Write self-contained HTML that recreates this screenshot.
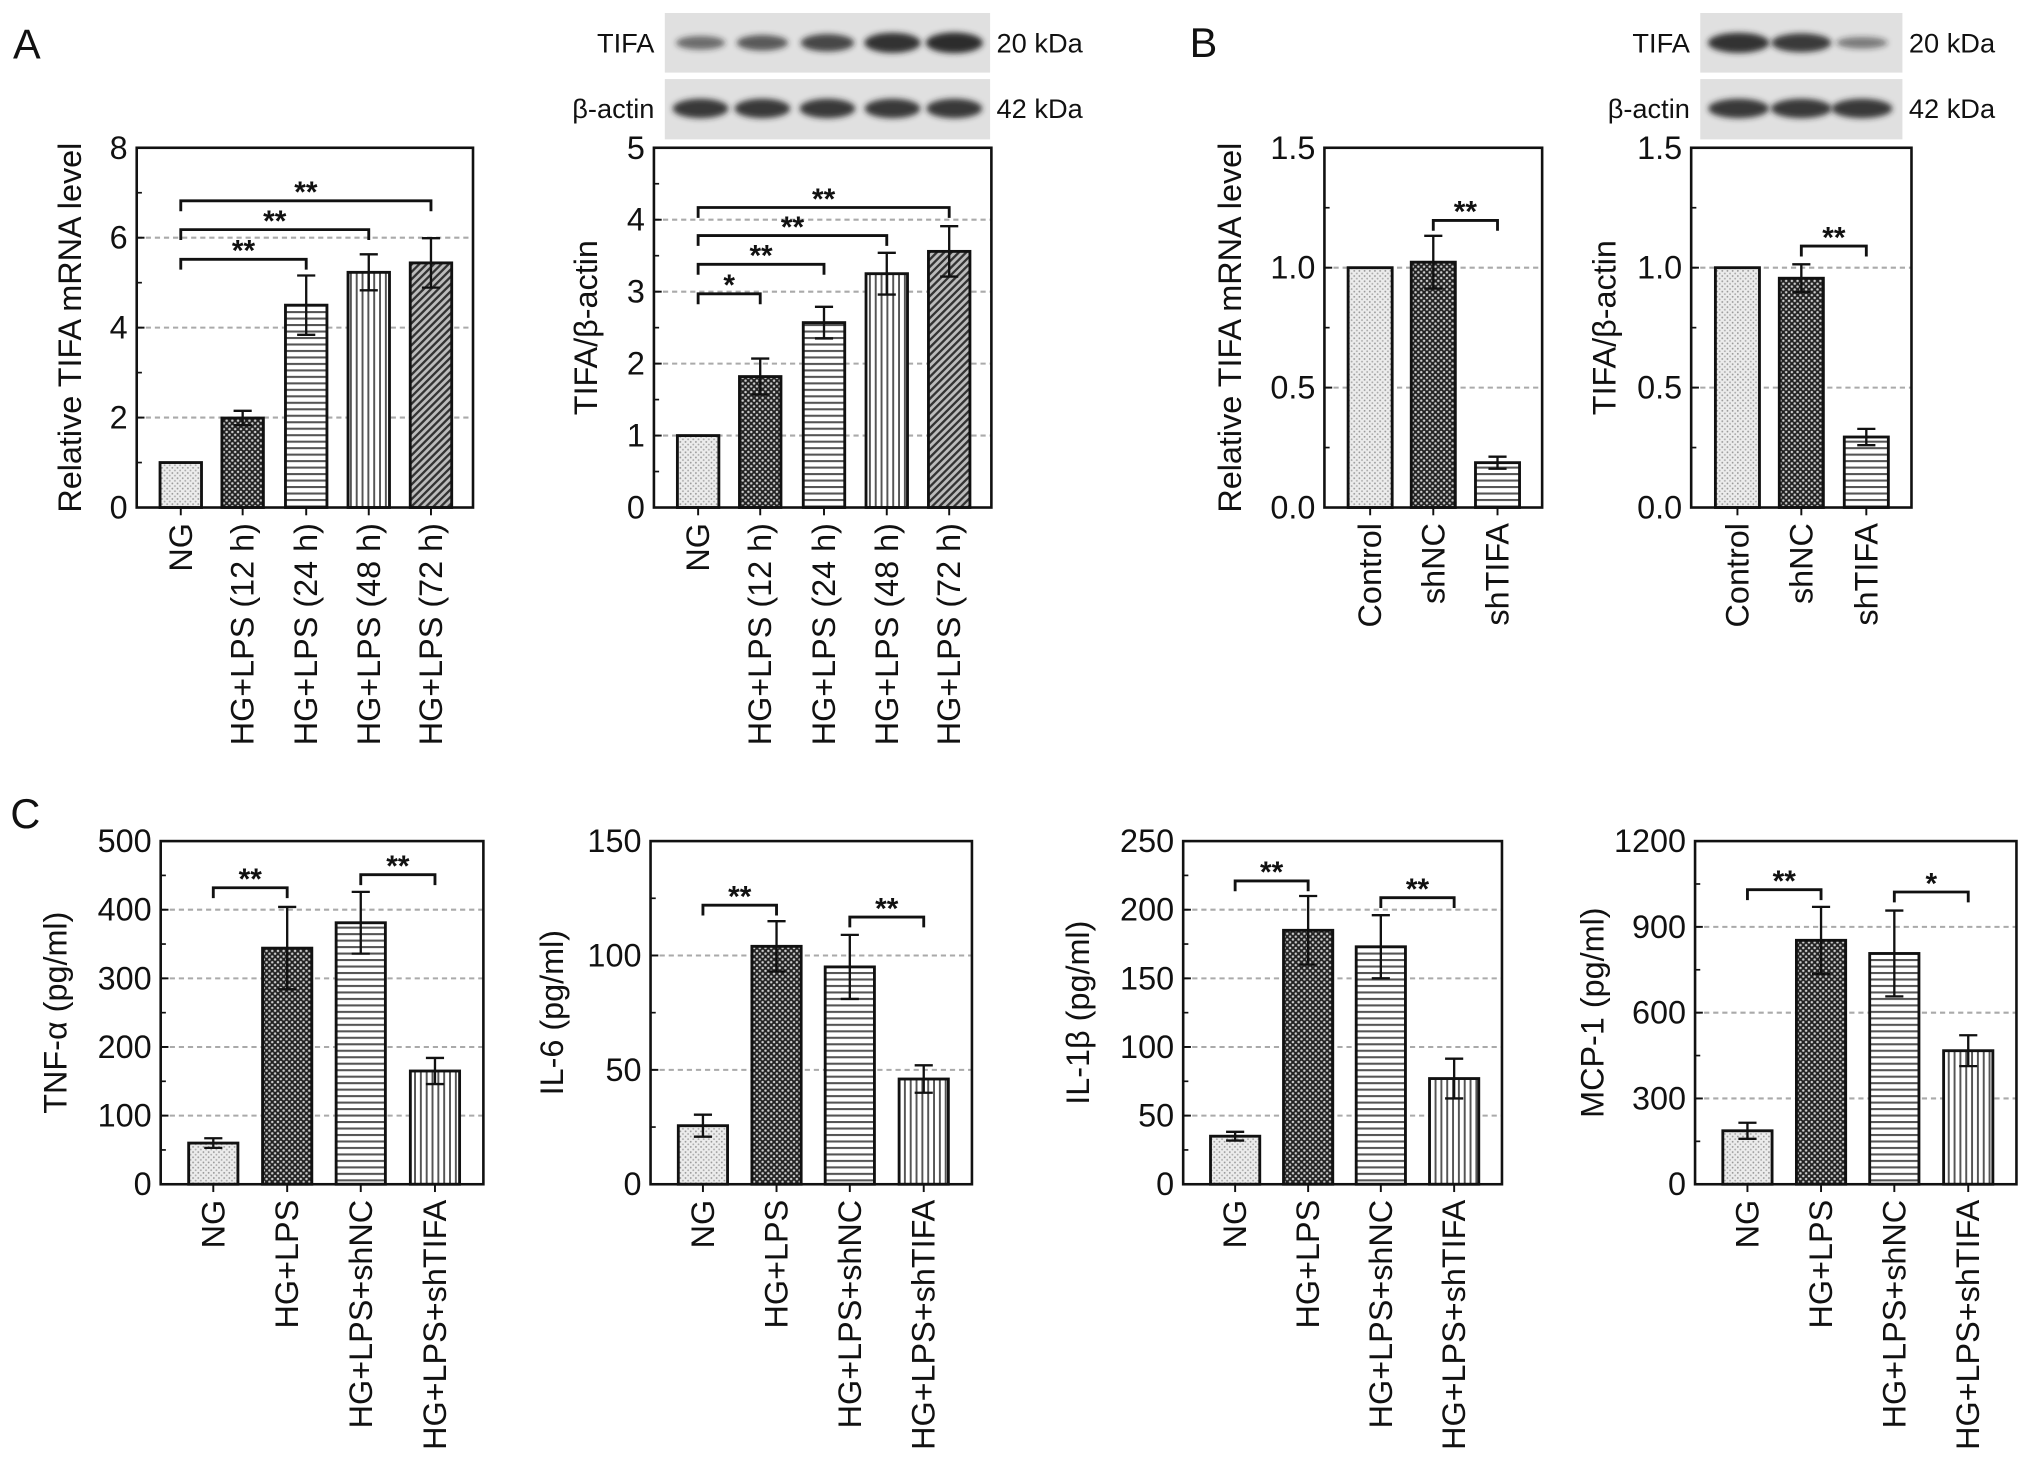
<!DOCTYPE html>
<html><head><meta charset="utf-8">
<style>
html,body{margin:0;padding:0;background:#fff;}
svg{display:block;}
text{font-family:"Liberation Sans",Arial,sans-serif;fill:#111;}
.tick{font-family:"Liberation Sans Narrow","Liberation Sans",sans-serif;font-size:25px;}
</style></head>
<body>
<svg id="fig" width="2032" height="1469" viewBox="0 0 1568 1133.5" xmlns="http://www.w3.org/2000/svg">
<defs>
  <pattern id="p-dots" width="4" height="4" patternUnits="userSpaceOnUse">
    <rect width="4" height="4" fill="#ececec"/><circle cx="1" cy="1" r="0.7" fill="#999"/><circle cx="3" cy="3" r="0.7" fill="#aaa"/>
  </pattern>
  <pattern id="p-check" width="4.4" height="4.4" patternUnits="userSpaceOnUse">
    <rect width="4.4" height="4.4" fill="#222"/><circle cx="1.1" cy="1.1" r="0.95" fill="#ccc"/><circle cx="3.3" cy="3.3" r="0.95" fill="#ccc"/>
  </pattern>
  <pattern id="p-hl" width="5" height="5" patternUnits="userSpaceOnUse">
    <rect width="5" height="5" fill="#fff"/><rect y="0" width="5" height="1.6" fill="#555"/>
  </pattern>
  <pattern id="p-vl" width="4.5" height="5" patternUnits="userSpaceOnUse">
    <rect width="4.5" height="5" fill="#fff"/><rect x="0" width="1.5" height="5" fill="#555"/>
  </pattern>
  <pattern id="p-diag" width="4" height="4" patternUnits="userSpaceOnUse" patternTransform="rotate(45)">
    <rect width="4" height="4" fill="#bbb"/><rect width="1.8" height="4" fill="#333"/>
  </pattern>
  <filter id="blur" x="-20%" y="-50%" width="140%" height="200%"><feGaussianBlur stdDeviation="2.2"/></filter>
</defs>
<text x="10" y="45" font-size="32">A</text>
<text x="918" y="44" font-size="32">B</text>
<text x="8" y="639" font-size="32">C</text>
<g id="layer"></g>
</svg>
<script>
// ---- Data ----
const catsA = ["NG","HG+LPS (12 h)","HG+LPS (24 h)","HG+LPS (48 h)","HG+LPS (72 h)"];
const a1Vals = [1.0, 1.99, 4.5, 5.23, 5.44];
const a1Errs = [0, 0.16, 0.66, 0.4, 0.55];
const a1Ticks = ["0","2","4","6","8"];
const a2Vals = [1.0, 1.82, 2.57, 3.25, 3.56];
const a2Errs = [0, 0.25, 0.22, 0.29, 0.35];
const a2Ticks = ["0","1","2","3","4","5"];
const catsB = ["Control","shNC","shTIFA"];
const b1Vals = [1.0, 1.023, 0.187];
const b1Errs = [0, 0.11, 0.025];
const b2Vals = [1.0, 0.956, 0.294];
const b2Errs = [0, 0.058, 0.034];
const bTicks = ["0.0","0.5","1.0","1.5"];
const catsC = ["NG","HG+LPS","HG+LPS+shNC","HG+LPS+shTIFA"];
const tnfVals = [60, 344, 381, 165];
const tnfErrs = [7, 60, 45, 19];
const tnfTicks = ["0","100","200","300","400","500"];
const il6Vals = [25.6, 104, 95, 46];
const il6Errs = [4.8, 11, 14, 6];
const il6Ticks = ["0","50","100","150"];
const il1Vals = [35, 185, 173, 77];
const il1Errs = [3.2, 25, 23, 14.5];
const il1Ticks = ["0","50","100","150","200","250"];
const mcpVals = [187, 853, 807, 467];
const mcpErrs = [28, 117, 150, 54];
const mcpTicks = ["0","300","600","900","1200"];
// brackets: [from, to, value, label]
const a1Sig = [[0,2,5.52,"**"],[0,3,6.18,"**"],[0,4,6.82,"**"]];
const a2Sig = [[0,1,2.97,"*"],[0,2,3.38,"**"],[0,3,3.78,"**"],[0,4,4.17,"**"]];
const b1Sig = [[1,2,1.197,"**"]];
const b2Sig = [[1,2,1.09,"**"]];
const tnfSig = [[0,1,432,"**"],[2,3,451,"**"]];
const il6Sig = [[0,1,122,"**"],[2,3,116.8,"**"]];
const il1Sig = [[0,1,221,"**"],[2,3,208.8,"**"]];
const mcpSig = [[0,1,1030,"**"],[2,3,1022,"*"]];
const blotA = [0.45, 0.6, 0.75, 0.95, 1.0];
const blotB = [0.95, 0.85, 0.3];

const NS = "http://www.w3.org/2000/svg";
const layer = document.getElementById('layer');
function el(tag, attrs, parent){
  const e = document.createElementNS(NS, tag);
  for (const k in attrs) e.setAttribute(k, attrs[k]);
  (parent||layer).appendChild(e);
  return e;
}

function panel(cfg){
  const g = el('g', {});
  
  
  const {x0,x1,y0,y1,max,cats,vals,errs,ticks,fracs,bw,fills,sig} = cfg;
  const sy = v => y1 - (v/max)*(y1-y0);
  const sx = i => x0 + fracs[i]*(x1-x0);
  ticks.forEach((t,i)=>{
    const v = parseFloat(t);
    if (v>0 && v<max){
      const gl = el('line',{x1:x0,x2:x1,y1:sy(v),y2:sy(v),stroke:'#aaa','stroke-width':1.6,'stroke-dasharray':'4 3'},g);
      
      
    }
  });
  vals.forEach((v,i)=>{
    const cx = sx(i);
    const r = el('rect',{x:cx-bw/2,y:sy(v),width:bw,height:sy(0)-sy(v),fill:'url(#'+fills[i]+')',stroke:'#111','stroke-width':2.2},g);
    
    
    if (errs[i]>0){
      const e = errs[i], hw=7;
      const eg = el('g',{stroke:'#111','stroke-width':1.8,fill:'none'},g);
      
      
      el('line',{x1:cx,x2:cx,y1:sy(v+e),y2:sy(v-e)},eg);
      el('line',{x1:cx-hw,x2:cx+hw,y1:sy(v+e),y2:sy(v+e)},eg);
      el('line',{x1:cx-hw,x2:cx+hw,y1:sy(v-e),y2:sy(v-e)},eg);
    }
    el('line',{x1:cx,x2:cx,y1:y1,y2:y1+6,stroke:'#111','stroke-width':1.5},g);
    const lt = el('text',{x:0,y:0,'font-size':cfg.xfs||25,'text-anchor':'end','dominant-baseline':'central',transform:`translate(${cx},${y1+12}) rotate(-90)`},g);
    lt.textContent = cats[i];
    
    
  });
  const fr = el('rect',{x:x0,y:y0,width:x1-x0,height:y1-y0,fill:'none',stroke:'#111','stroke-width':2},g);
  
  
  ticks.forEach((t,i)=>{
    const v = parseFloat(t);
    el('line',{x1:x0,x2:x0+6,y1:sy(v),y2:sy(v),stroke:'#111','stroke-width':1.5},g);
    if (i<ticks.length-1){
      const m = v + (parseFloat(ticks[1])-parseFloat(ticks[0]))/2;
      el('line',{x1:x0,x2:x0+4,y1:sy(m),y2:sy(m),stroke:'#111','stroke-width':1.3},g);
    }
    const tt = el('text',{x:x0-7,y:sy(v),'text-anchor':'end','dominant-baseline':'central',class:'tick'},g);
    tt.textContent = t;
    
    
  });
  const yt = el('text',{x:0,y:0,'font-size':cfg.tfs||25,'text-anchor':'middle','dominant-baseline':'central',transform:`translate(${cfg.tx},${(y0+y1)/2}) rotate(-90)`},g);
  yt.textContent = cfg.title;
  
  
  sig.forEach(s=>{
    const xa = sx(s[0]), xb = sx(s[1]), yy = sy(s[2]);
    const p = el('path',{d:`M${xa},${yy+8} L${xa},${yy} L${xb},${yy} L${xb},${yy+8}`,fill:'none',stroke:'#111','stroke-width':2.2},g);
    
    
    const st = el('text',{x:(xa+xb)/2,y:yy+1,'font-size':23,'font-weight':'bold','text-anchor':'middle'},g);
    st.textContent = s[3];
    
    
  });
}

function blot(cfg){
  const g = el('g',{});
  
  
  const {x0,x1,fracs,tifa} = cfg;
  const rows = [[10,56,33,'TIFA','20 kDa',tifa],[61,107.5,83.7,'β-actin','42 kDa',tifa.map(()=>0.9)]];
  rows.forEach(r=>{
    el('rect',{x:x0,y:r[0],width:x1-x0,height:r[1]-r[0],fill:'#e0e0e0'},g);
    r[5].forEach((v,i)=>{
      const cx = x0 + fracs[i]*(x1-x0);
      const b = el('ellipse',{cx:cx,cy:r[2],rx:cfg.bandW*(0.75+0.25*v),ry:3+5*v,fill:'#222','fill-opacity':0.35+0.6*v,filter:'url(#blur)'},g);
      
      
    });
    const l = el('text',{x:x0-8,y:r[2],'font-size':21,'text-anchor':'end','dominant-baseline':'central'},g);
    l.textContent = r[3];
    
    
    const k = el('text',{x:x1+5,y:r[2],'font-size':21,'dominant-baseline':'central'},g);
    k.textContent = r[4];
    
    
  });
}

const fA = [0.131,0.315,0.504,0.69,0.875];
const fB = [0.21,0.5,0.795];
const fC = [0.163,0.392,0.62,0.85];
const patsA = ['p-dots','p-check','p-hl','p-vl','p-diag'];
const patsB = ['p-dots','p-check','p-hl'];
const patsC = ['p-dots','p-check','p-hl','p-vl'];

panel({name:'chart-a-mrna',x0:105.5,x1:365,y0:114,y1:391.6,max:8,cats:catsA,vals:a1Vals,errs:a1Errs,ticks:a1Ticks,fracs:fA,bw:32,fills:patsA,sig:a1Sig,title:'Relative TIFA mRNA level',tx:54});
panel({name:'chart-a-protein',x0:504.6,x1:765,y0:114,y1:391.6,max:5,cats:catsA,vals:a2Vals,errs:a2Errs,ticks:a2Ticks,fracs:fA,bw:32,fills:patsA,sig:a2Sig,title:'TIFA/β-actin',tx:452});
panel({name:'chart-b-mrna',x0:1022,x1:1190,y0:114,y1:391.6,max:1.5,cats:catsB,vals:b1Vals,errs:b1Errs,ticks:bTicks,fracs:fB,bw:34,fills:patsB,sig:b1Sig,title:'Relative TIFA mRNA level',tx:949});
panel({name:'chart-b-protein',x0:1305,x1:1475,y0:114,y1:391.6,max:1.5,cats:catsB,vals:b2Vals,errs:b2Errs,ticks:bTicks,fracs:fB,bw:34,fills:patsB,sig:b2Sig,title:'TIFA/β-actin',tx:1238});
panel({name:'chart-c-tnf',x0:124,x1:373,y0:649,y1:913.8,max:500,cats:catsC,vals:tnfVals,errs:tnfErrs,ticks:tnfTicks,fracs:fC,bw:38,fills:patsC,sig:tnfSig,title:'TNF-α (pg/ml)',tx:43,xfs:25});
panel({name:'chart-c-il6',x0:502,x1:750,y0:649,y1:913.8,max:150,cats:catsC,vals:il6Vals,errs:il6Errs,ticks:il6Ticks,fracs:fC,bw:38,fills:patsC,sig:il6Sig,title:'IL-6 (pg/ml)',tx:426,xfs:25});
panel({name:'chart-c-il1b',x0:913,x1:1159,y0:649,y1:913.8,max:250,cats:catsC,vals:il1Vals,errs:il1Errs,ticks:il1Ticks,fracs:fC,bw:38,fills:patsC,sig:il1Sig,title:'IL-1β (pg/ml)',tx:832,xfs:25});
panel({name:'chart-c-mcp1',x0:1308,x1:1556,y0:649,y1:913.8,max:1200,cats:catsC,vals:mcpVals,errs:mcpErrs,ticks:mcpTicks,fracs:fC,bw:38,fills:patsC,sig:mcpSig,title:'MCP-1 (pg/ml)',tx:1229,xfs:25});

blot({name:'western-blot-a',x0:513,x1:764,fracs:[0.11,0.3,0.5,0.7,0.89],tifa:blotA,bandW:22});
blot({name:'western-blot-b',x0:1312,x1:1468,fracs:[0.19,0.5,0.8],tifa:blotB,bandW:24});
</script>
</body></html>
